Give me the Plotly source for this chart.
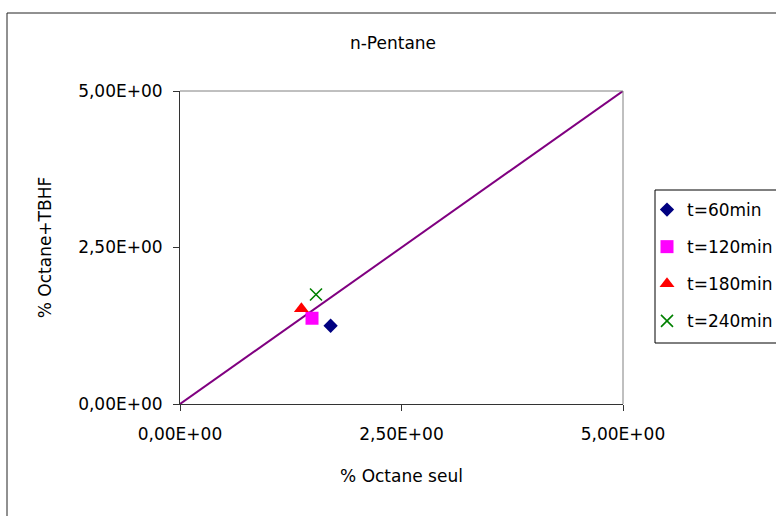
import plotly.graph_objects as go

# Series: % octane alone (x) vs % octane + TBHF (y), one point per reaction time
series_names = ["t=60min", "t=120min", "t=180min", "t=240min"]
octane_seul = [1.70, 1.49, 1.37, 1.535]
octane_tbhf = [1.25, 1.37, 1.52, 1.75]

# Reference diagonal y = x
diag_x = [0, 5]
diag_y = [0, 5]

# Axis ticks
tick_vals = [0, 2.5, 5]
tick_text = ["0,00E+00", "2,50E+00", "5,00E+00"]

styles = [
    dict(symbol="diamond", size=11, color="#000080"),
    dict(symbol="square", size=13, color="#FF00FF"),
    dict(symbol="triangle-up", size=13, color="#FF0000"),
    dict(symbol="x-thin", size=12, color="#008000"),
]

FONT = "DejaVu Sans, Liberation Sans, Arial, sans-serif"
FS = 17

fig = go.Figure()
fig.add_trace(go.Scatter(
    x=diag_x, y=diag_y, mode="lines",
    line=dict(color="#800080", width=2),
    showlegend=False, hoverinfo="skip",
))

for i, name in enumerate(series_names):
    st = styles[i]
    marker = dict(symbol=st["symbol"], size=st["size"], color=st["color"])
    if st["symbol"] == "x-thin":
        marker["line"] = dict(color=st["color"], width=1.6)
    fig.add_trace(go.Scatter(
        x=[octane_seul[i]], y=[octane_tbhf[i]], mode="markers",
        name=name, marker=marker, legendgroup=name,
    ))

L, R, T, B = 180, 153, 91, 112
W, H = 776, 516
pw, ph = W - L - R, H - T - B

def px_x(p):
    return (p - L) / pw

def px_y(p):
    return (H - B - p) / ph

axis_common = dict(
    range=[0, 5], tickvals=tick_vals, ticktext=tick_text,
    showgrid=False, zeroline=False, showline=True,
    linecolor="#333333", linewidth=1,
    ticks="outside", ticklen=6, tickcolor="#333333", tickwidth=1,
    tickfont=dict(family=FONT, size=FS, color="#000000"),
    fixedrange=True,
)

fig.update_layout(
    width=W, height=H,
    margin=dict(l=L, r=R, t=T, b=B, autoexpand=False),
    paper_bgcolor="white", plot_bgcolor="white",
    font=dict(family=FONT, size=FS, color="#000000"),
    title=dict(
        text="n-Pentane", x=393 / W, xref="container", xanchor="center",
        y=1 - 43 / H, yref="container", yanchor="middle",
        font=dict(family=FONT, size=FS, color="#000000"),
    ),
    xaxis=dict(
        **axis_common, ticklabelstandoff=9,
        title=dict(text="% Octane seul", standoff=26,
                   font=dict(family=FONT, size=FS, color="#000000")),
    ),
    yaxis=dict(
        **axis_common, ticklabelstandoff=7,
        title=dict(text="% Octane+TBHF", standoff=22,
                   font=dict(family=FONT, size=FS, color="#000000")),
    ),
    legend=dict(
        x=px_x(647), y=px_y(192), xanchor="left", yanchor="top",
        xref="paper", yref="paper",
        borderwidth=0, bgcolor="rgba(0,0,0,0)",
        font=dict(family=FONT, size=FS, color="#000000"),
        tracegroupgap=12, itemclick=False, itemdoubleclick=False,
    ),
    shapes=[
        # outer chart frame
        dict(type="rect", xref="paper", yref="paper",
             x0=px_x(7), x1=px_x(W + 20), y0=px_y(H + 20), y1=px_y(13),
             line=dict(color="#222222", width=1), fillcolor="rgba(0,0,0,0)",
             layer="below"),
        # legend frame
        dict(type="rect", xref="paper", yref="paper",
             x0=px_x(655), x1=px_x(W + 20), y0=px_y(343), y1=px_y(190),
             line=dict(color="#000000", width=1), fillcolor="rgba(0,0,0,0)"),
        # top and right edges of the plot area
        dict(type="line", xref="paper", yref="paper", x0=0, x1=1, y0=1, y1=1,
             line=dict(color="#808080", width=1)),
        dict(type="line", xref="paper", yref="paper", x0=1, x1=1, y0=0, y1=1,
             line=dict(color="#808080", width=1)),
    ],
)

fig.write_html("out.html")
